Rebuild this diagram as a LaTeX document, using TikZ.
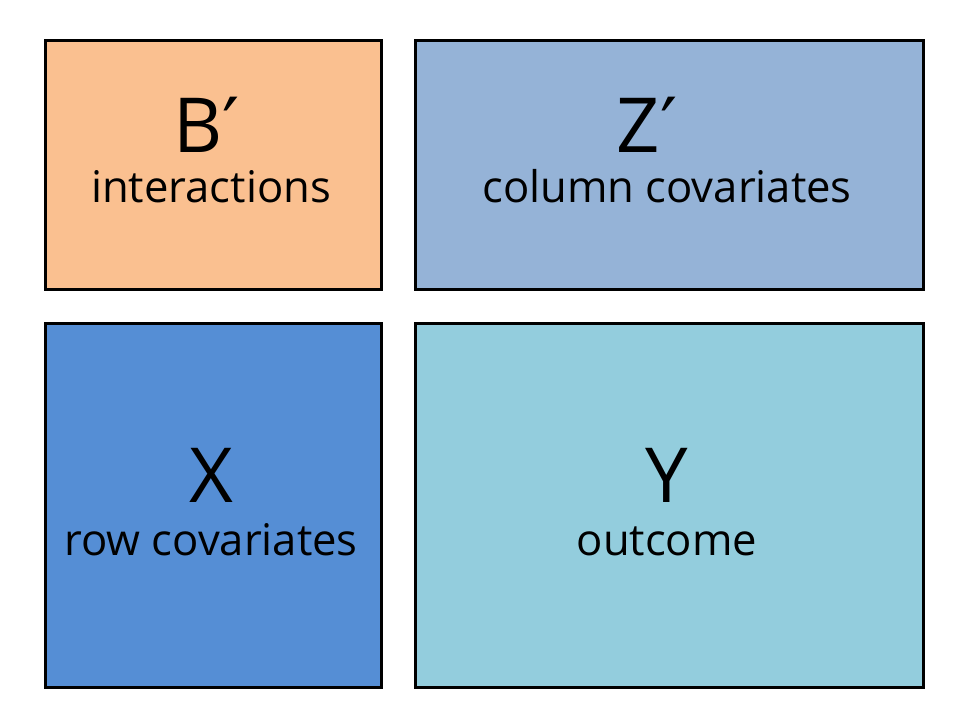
\documentclass[tikz,border=0pt]{standalone}
\usepackage{fontspec}
\setmainfont{Open Sans}
\newfontfamily\primefont{DejaVu Sans}
\usetikzlibrary{positioning}
\definecolor{inter}{HTML}{FAC090}
\definecolor{colcov}{HTML}{95B3D7}
\definecolor{rowcov}{HTML}{558ED5}
\definecolor{outc}{HTML}{93CDDD}
\tikzset{
  panel/.style={draw=black,line width=2pt,inner sep=0pt,anchor=north west},
  letter/.style={font=\fontsize{54}{60}\selectfont,anchor=base,inner sep=0pt},
  caption/.style={font=\fontsize{31}{36}\selectfont,anchor=base,inner sep=0pt}
}
\newcommand{\pr}{{\primefont\char"2032}}
\begin{document}
\begin{tikzpicture}[x=0.025cm,y=-0.025cm]
\useasboundingbox (0,0) rectangle (960,720);
% top row
\node[panel,fill=inter,minimum width=336*0.025cm,minimum height=249*0.025cm] (bbox) at (44,39) {};
\node[panel,fill=colcov,minimum width=508*0.025cm,minimum height=249*0.025cm] (zbox) at (414,39) {};
% bottom row
\node[panel,fill=rowcov,minimum width=336*0.025cm,minimum height=364*0.025cm] (xbox) at (44,322) {};
\node[panel,fill=outc,minimum width=508*0.025cm,minimum height=364*0.025cm] (ybox) at (414,322) {};
% labels
\node[letter] (bname) at (207,153) {B\pr};
\node[caption] (blab) at (211,203) {interactions};
\node[letter] (zname) at (647,153) {Z\pr};
\node[caption] (zlab) at (667,203) {column covariates};
\node[letter] (xname) at (211,503) {X};
\node[caption] (xlab) at (211,555) {row covariates};
\node[letter] (yname) at (667,503) {Y};
\node[caption] (ylab) at (667,555) {outcome};
\end{tikzpicture}
\end{document}
